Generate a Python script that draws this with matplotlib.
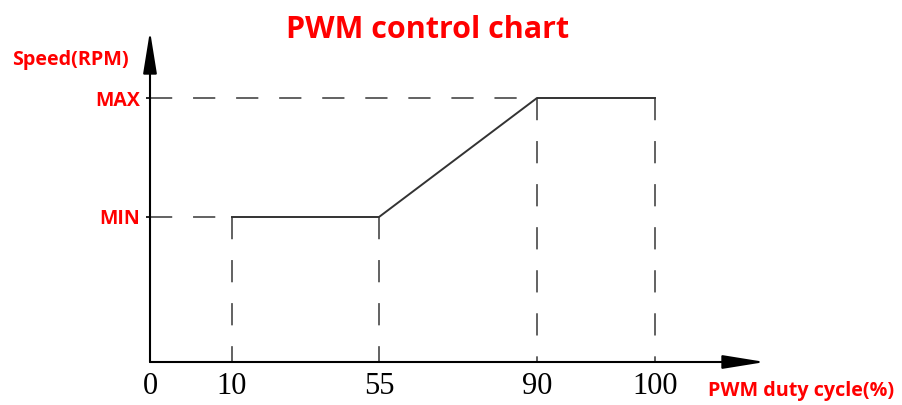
import matplotlib
matplotlib.use('Agg')
import matplotlib.pyplot as plt
import numpy as np

plt.rcParams['lines.scale_dashes'] = False

# schematic chart: duty cycle breakpoints and speed levels
duty_ticks = [0, 10, 55, 90, 100]
duty_labels = ['0', '10', '55', '90', '100']
speed_levels = [1, 2]
speed_labels = ['MIN', 'MAX']

curve_duty = [10, 55, 90, 100]
curve_speed = [1, 1, 2, 2]

# drawing is not to scale, so map values onto the schematic spacing
x_vals = [-1000, 0, 10, 55, 90, 100, 1100]
x_pos = [-1000, 0, 82, 229, 387, 505, 1505]
y_vals = [-1000, 0, 1, 2, 1000]
y_pos = [-145000, 0, 145, 264, 264 + 119 * 998]

def fx(v): return np.interp(v, x_vals, x_pos)
def ix(p): return np.interp(p, x_pos, x_vals)
def fy(v): return np.interp(v, y_vals, y_pos)
def iy(p): return np.interp(p, y_pos, y_vals)

W, H = 902, 405
fig = plt.figure(figsize=(W / 100, H / 100), dpi=100)
ax = fig.add_axes([150 / W, 43 / H, 615 / W, 331 / H])
ax.set_xscale('function', functions=(fx, ix))
ax.set_yscale('function', functions=(fy, iy))
x_end = ix(615)
y_end = iy(331)
ax.set_xlim(0, x_end)
ax.set_ylim(0, y_end)
for s in ax.spines.values():
    s.set_visible(False)

line_col = '#333333'
dash_col = '#555555'
dash = (0, (16, 15))

# axes with arrow heads
arrow = dict(arrowstyle='-|>,head_length=2.6,head_width=0.42', color='black', lw=1.5,
             shrinkA=0, shrinkB=0)
ax.annotate('', xy=(x_end, 0), xytext=(0, 0), arrowprops=arrow, annotation_clip=False)
ax.annotate('', xy=(0, y_end), xytext=(0, 0), arrowprops=arrow, annotation_clip=False)

# guide lines
ax.plot([0, 10], [1, 1], color=dash_col, lw=1.3, ls=dash, clip_on=False)
ax.plot([0, 90], [2, 2], color=dash_col, lw=1.3, ls=dash, clip_on=False)
for d, s in zip(curve_duty, curve_speed):
    ax.plot([d, d], [s, 0], color=dash_col, lw=1.3, ls=dash, clip_on=False)

# speed curve
ax.plot(curve_duty, curve_speed, color=line_col, lw=1.4, clip_on=False)

ax.set_xticks(duty_ticks)
ax.set_xticklabels(duty_labels, family='Liberation Serif', fontsize=22, color='black')
ax.tick_params(axis='x', length=0, pad=7)
ax.set_yticks(speed_levels)
ax.set_yticklabels(speed_labels, family='Open Sans', fontweight='bold',
                   fontsize=14, color='red')
ax.tick_params(axis='y', length=3, width=1.2, pad=4)

red = dict(color='red', fontweight='bold', family='Open Sans')
fig.text(428 / W, 1 - 38 / H, 'PWM control chart', ha='center', va='baseline',
         fontsize=22, **red)
fig.text(12 / W, 1 - 65 / H, 'Speed(RPM)', ha='left', va='baseline', fontsize=14.2, **red)
fig.text(708 / W, 1 - 396 / H, 'PWM duty cycle(%)', ha='left', va='baseline',
         fontsize=14.2, **red)

fig.savefig('out.png', dpi=100, facecolor='white')
